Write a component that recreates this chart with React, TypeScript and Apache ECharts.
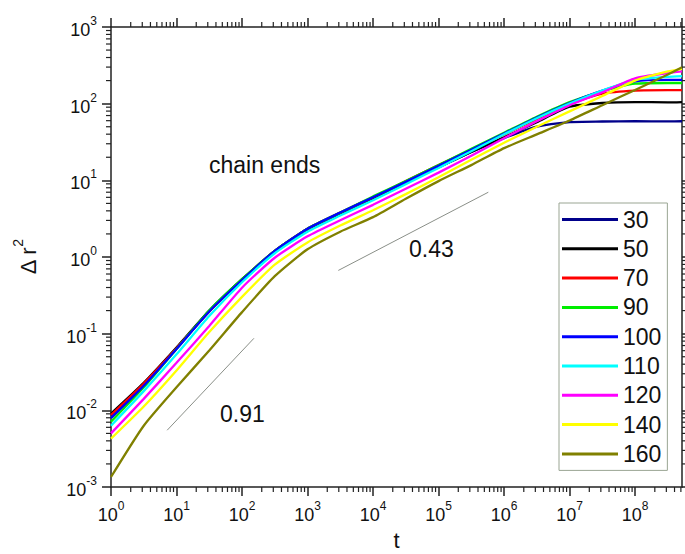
import React, { useEffect, useRef } from 'react';
import * as echarts from 'echarts';

// time points (t)
const tValues = [1, 3.16, 10, 31.6, 100, 316, 1000, 3160, 1e4, 3.16e4, 1e5, 3.16e5, 1e6, 3.16e6, 1e7, 3.16e7, 1e8, 3.16e8, 5.2e8];

const chainLengths = ['30', '50', '70', '90', '100', '110', '120', '140', '160'];
const seriesColors = ['#00008b', '#000000', '#ff0000', '#00ee00', '#0000ff', '#00ffff', '#ff00ff', '#ffff00', '#808000'];

// Δr² values per chain length
const msd30 = [0.0085, 0.0219, 0.0646, 0.195, 0.501, 1.17, 2.29, 3.72, 5.89, 9.33, 14.8, 23.4, 35.5, 50.1, 57.5, 58.5, 59.0, 58.7, 59.0];
const msd50 = [0.0091, 0.0229, 0.0661, 0.2, 0.513, 1.2, 2.34, 3.72, 5.89, 9.33, 14.8, 23.4, 36.3, 57.5, 91.2, 102, 105, 104, 105];
const msd70 = [0.0087, 0.0224, 0.0646, 0.195, 0.501, 1.2, 2.34, 3.8, 6.03, 9.77, 15.8, 25.1, 39.8, 63.1, 97.7, 135, 148, 150, 150];
const msd90 = [0.0071, 0.02, 0.0631, 0.2, 0.513, 1.2, 2.34, 3.8, 6.17, 9.77, 15.8, 25.7, 41.7, 67.6, 105, 145, 182, 186, 186];
const msd100 = [0.0079, 0.0209, 0.0631, 0.195, 0.501, 1.2, 2.34, 3.8, 6.03, 9.55, 15.5, 25.1, 40.7, 66.1, 102, 148, 195, 204, 204];
const msd110 = [0.0063, 0.0178, 0.0537, 0.17, 0.468, 1.12, 2.14, 3.47, 5.5, 8.91, 14.5, 24.0, 39.8, 64.6, 100, 148, 204, 224, 229];
const msd120 = [0.005, 0.0141, 0.0417, 0.126, 0.398, 0.977, 1.86, 3.02, 4.79, 7.76, 12.6, 20.9, 35.5, 58.9, 95.5, 141, 214, 251, 263];
const msd140 = [0.00427, 0.0112, 0.0331, 0.105, 0.302, 0.794, 1.55, 2.57, 4.07, 6.61, 11.0, 18.6, 30.9, 50.1, 79.4, 126, 200, 263, 285];
const msd160 = [0.00135, 0.0063, 0.02, 0.0603, 0.191, 0.562, 1.26, 2.14, 3.31, 5.75, 9.77, 15.8, 26.3, 39.8, 60.3, 95.5, 151, 240, 299];
const msdSeries = [msd30, msd50, msd70, msd90, msd100, msd110, msd120, msd140, msd160];

// guide lines for slopes
const slope091 = [[7.2, 0.0055], [152, 0.087]];
const slope043 = [[2950, 0.668], [575000, 7.0]];

const xRange = [1, 5.2e8];
const yRange = [0.001, 1000];

export default function App() {
  const ref = useRef<HTMLDivElement>(null);
  useEffect(() => {
    document.body.style.margin = '0';
    const chart = echarts.init(ref.current!, null, { renderer: 'svg' });
    const font = 'Liberation Sans, Arial, Helvetica, sans-serif';
    const ink = '#111';
    const supLabel = (v: number) => `{b|10}{s|${Math.round(Math.log10(v))}}`;
    const labelRich = {
      b: { fontSize: 18, lineHeight: 24, verticalAlign: 'bottom', color: ink, fontFamily: font },
      s: { fontSize: 12, lineHeight: 12, verticalAlign: 'top', color: ink, fontFamily: font },
    };
    const axisLineStyle = { color: '#222', width: 1.5 };
    const baseAxis = {
      type: 'log',
      logBase: 10,
      axisLine: { show: true, lineStyle: axisLineStyle },
      axisTick: { show: true, inside: false, length: 9, lineStyle: axisLineStyle },
      splitLine: { show: false },
      minorTick: { show: false },
    };
    const option: any = {
      animation: false,
      backgroundColor: '#fff',
      grid: { left: 111, right: 3, top: 27, bottom: 67, outerBoundsMode: 'none' },
      xAxis: [
        {
          ...baseAxis,
          min: xRange[0],
          max: xRange[1],
          splitNumber: 9,
          position: 'bottom',
          name: 't',
          nameLocation: 'middle',
          nameGap: 42,
          nameTextStyle: { fontSize: 22, lineHeight: 22, color: ink, fontFamily: font },
          axisLabel: { margin: 13, formatter: supLabel, rich: labelRich, showMaxLabel: false },
        },
        {
          ...baseAxis,
          min: xRange[0],
          max: xRange[1],
          splitNumber: 9,
          position: 'top',
          axisLabel: { show: false },
        },
      ],
      yAxis: [
        {
          ...baseAxis,
          min: yRange[0],
          max: yRange[1],
          splitNumber: 6,
          position: 'left',
          name: '{a|Δ r}{s|2}',
          nameLocation: 'middle',
          nameRotate: 90,
          nameGap: 72,
          nameTextStyle: {
            rich: {
              a: { fontSize: 22, lineHeight: 28, verticalAlign: 'bottom', color: ink, fontFamily: font },
              s: { fontSize: 14, lineHeight: 14, verticalAlign: 'top', color: ink, fontFamily: font },
            },
          },
          axisLabel: { margin: 14, formatter: supLabel, rich: labelRich },
        },
        {
          ...baseAxis,
          min: yRange[0],
          max: yRange[1],
          splitNumber: 6,
          position: 'right',
          axisLabel: { show: false },
        },
      ],
      legend: {
        orient: 'vertical',
        left: 559,
        top: 203,
        itemWidth: 56,
        itemHeight: 3,
        itemGap: 6.3,
        icon: 'rect',
        padding: [5, 6, 5, 3],
        borderColor: '#9aa593',
        borderWidth: 1,
        backgroundColor: '#fff',
        textStyle: { fontSize: 23, lineHeight: 23, color: ink, fontFamily: font },
        data: chainLengths,
      },
      series: [
        ...chainLengths.map((name, i) => ({
          name,
          type: 'line',
          data: tValues.map((t, j) => [t, msdSeries[i][j]]),
          showSymbol: false,
          symbol: 'none',
          smooth: 0.2,
          lineStyle: { width: 2.3, color: seriesColors[i] },
          itemStyle: { color: seriesColors[i] },
          z: 3,
        })),
        {
          type: 'line',
          data: slope091,
          symbol: 'none',
          silent: true,
          lineStyle: { width: 1, color: '#8a8f88' },
          z: 2,
        },
        {
          type: 'line',
          data: slope043,
          symbol: 'none',
          silent: true,
          lineStyle: { width: 1, color: '#8a8f88' },
          z: 2,
        },
      ],
    };
    chart.setOption(option);

    const xPix = (v: number) => chart.convertToPixel({ xAxisIndex: 0 }, v) as number;
    const yPix = (v: number) => chart.convertToPixel({ yAxisIndex: 0 }, v) as number;
    const left = xPix(xRange[0]);
    const right = xPix(xRange[1]);
    const top = yPix(yRange[1]);
    const bottom = yPix(yRange[0]);
    const minorLen = 5;
    const tickStyle = { stroke: '#222', lineWidth: 1.2 };
    const graphics: any[] = [];
    for (let d = 0; d <= 8; d++) {
      for (let m = 2; m <= 9; m++) {
        const v = m * Math.pow(10, d);
        if (v > xRange[1]) continue;
        const px = xPix(v);
        graphics.push({ type: 'line', silent: true, shape: { x1: px, y1: bottom, x2: px, y2: bottom + minorLen }, style: tickStyle });
        graphics.push({ type: 'line', silent: true, shape: { x1: px, y1: top, x2: px, y2: top - minorLen }, style: tickStyle });
      }
    }
    for (let d = -3; d <= 2; d++) {
      for (let m = 2; m <= 9; m++) {
        const v = m * Math.pow(10, d);
        const py = yPix(v);
        graphics.push({ type: 'line', silent: true, shape: { x1: left - minorLen, y1: py, x2: left, y2: py }, style: tickStyle });
        graphics.push({ type: 'line', silent: true, shape: { x1: right, y1: py, x2: right + minorLen, y2: py }, style: tickStyle });
      }
    }
    const textStyle = (text: string, x: number, y: number) => ({
      type: 'text',
      silent: true,
      x,
      y,
      style: { text, fontSize: 23, fontFamily: font, fill: ink, verticalAlign: 'middle', align: 'left' },
    });
    graphics.push(textStyle('chain ends', 209, 165));
    graphics.push(textStyle('0.91', 220, 414));
    graphics.push(textStyle('0.43', 409, 249));
    chart.setOption({ graphic: graphics });

    return () => chart.dispose();
  }, []);
  return <div ref={ref} style={{ width: 685, height: 554 }} />;
}
